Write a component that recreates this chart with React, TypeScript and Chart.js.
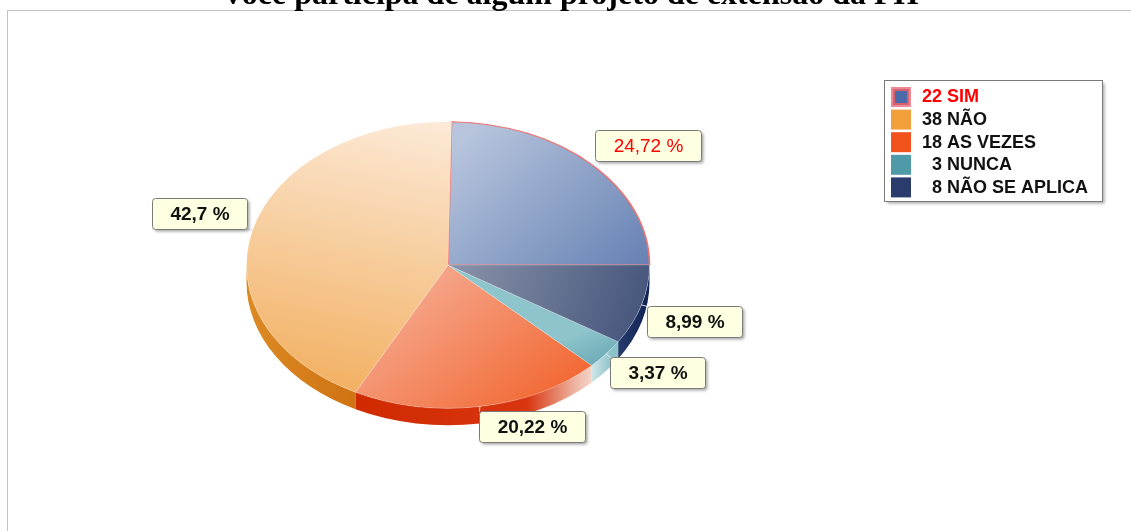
import React, { useEffect, useRef } from "react";
import { Chart, registerables } from "chart.js";

Chart.register(...registerables);

// ---- data ----
const categories = ["SIM", "NÃO", "AS VEZES", "NUNCA", "NÃO SE APLICA"];
const counts = [22, 38, 18, 3, 8];
const percentLabels = ["24,72 %", "42,7 %", "20,22 %", "3,37 %", "8,99 %"];
const titleText = "Você participa de algum projeto de extensão da FH";

// ---- styles ----
const legendColors = ["#4a6aa8", "#f2a03c", "#f2531c", "#4f9aa8", "#2a3c6c"];
const faceStops: [string, string][] = [
  ["#b7c4dc", "#6682b4"],
  ["#fce9d6", "#f2ae5e"],
  ["#f5a68b", "#f2632c"],
  ["#8ec4cc", "#66a6b2"],
  ["#8891a8", "#46557c"],
];
// gradient directions in screen coords [x0,y0,x1,y1]
const faceDirs = [
  [450, 150, 650, 260],
  [430, 122, 320, 400],
  [420, 280, 590, 390],
  [585, 330, 615, 365],
  [455, 268, 650, 300],
];
const borderColors = ["#f07070", "rgba(255,255,255,0.35)", "rgba(255,255,255,0.35)", "rgba(255,255,255,0.35)", "rgba(255,255,255,0.35)"];
const borderWidths = [1.6, 0.8, 0.8, 0.8, 0.8];

const CX = 448;
const CY = 265;
const RX = 201.5;
const RY = 143.3;
const K = RY / RX;
const DEPTH = 17;
const FONT = '"Liberation Sans", Arial, sans-serif';

function chartCenter(chart: any) {
  const a = chart.chartArea;
  return { cx: (a.left + a.right) / 2, cy: (a.top + a.bottom) / 2 };
}

function sideFill(ctx: CanvasRenderingContext2D, i: number) {
  let g: CanvasGradient;
  if (i === 1) {
    g = ctx.createLinearGradient(246, 0, 360, 0);
    g.addColorStop(0, "#dc8a24");
    g.addColorStop(1, "#cf7212");
  } else if (i === 2) {
    g = ctx.createLinearGradient(357, 0, 593, 0);
    g.addColorStop(0, "#d02a00");
    g.addColorStop(0.72, "#d83510");
    g.addColorStop(0.93, "#eeb8a6");
    g.addColorStop(1, "#f4d6cc");
  } else if (i === 3) {
    g = ctx.createLinearGradient(592, 0, 612, 0);
    g.addColorStop(0, "#cde5e7");
    g.addColorStop(1, "#8cc2ca");
  } else if (i === 4) {
    g = ctx.createLinearGradient(610, 0, 652, 0);
    g.addColorStop(0, "#2c4274");
    g.addColorStop(1, "#0c1f50");
  } else {
    g = ctx.createLinearGradient(0, 0, 1, 0);
    g.addColorStop(0, "#4a6aa8");
    g.addColorStop(1, "#4a6aa8");
  }
  return g;
}

const pie3d = {
  id: "pie3d",
  beforeDatasetsDraw(chart: any) {
    const ctx: CanvasRenderingContext2D = chart.ctx;
    const meta = chart.getDatasetMeta(0);
    const TWO = Math.PI * 2;
    // side bands (front half of ellipse)
    meta.data.forEach((el: any, i: number) => {
      const s = el.startAngle;
      const e = el.endAngle;
      const lo = Math.max(TWO - e, 0);
      const hi = Math.min(TWO - s, Math.PI);
      if (hi <= lo) return;
      ctx.save();
      ctx.beginPath();
      ctx.ellipse(CX, CY, RX, RY, 0, lo, hi, false);
      ctx.ellipse(CX, CY + DEPTH, RX, RY, 0, hi, lo, true);
      ctx.closePath();
      ctx.fillStyle = sideFill(ctx, i);
      ctx.fill();
      ctx.restore();
    });
    const { cx, cy } = chartCenter(chart);
    ctx.save();
    ctx.translate(CX, CY);
    ctx.scale(1, -K);
    ctx.translate(-cx, -cy);
  },
  afterDatasetsDraw(chart: any) {
    chart.ctx.restore();
  },
  afterDraw(chart: any) {
    const ctx: CanvasRenderingContext2D = chart.ctx;
    const meta = chart.getDatasetMeta(0);
    // labels
    meta.data.forEach((el: any, i: number) => {
      const th = (el.startAngle + el.endAngle) / 2;
      const c = Math.cos(th);
      const s = Math.sin(th);
      const ax = CX + RX * c;
      const ay = CY - RY * s;
      const isSim = i === 0;
      ctx.save();
      ctx.font = (isSim ? "normal " : "bold ") + "19px " + FONT;
      const tw = ctx.measureText(percentLabels[i]).width;
      const w = Math.round(tw + 36);
      const h = 31;
      const ox = 7 * Math.abs(c) - 1.5;
      const oy = 5 * Math.abs(s);
      const left = c >= 0 ? ax + ox : ax - ox - w;
      const top = s >= 0 ? ay - oy - h : ay + oy;
      const bx = Math.round(left) + 0.5;
      const by = Math.round(top) + 0.5;
      // leader tick
      ctx.strokeStyle = "rgba(230,230,230,0.95)";
      ctx.lineWidth = 1;
      ctx.beginPath();
      ctx.moveTo(ax, ay);
      ctx.lineTo(c >= 0 ? bx : bx + w, s >= 0 ? by + h : by);
      ctx.stroke();
      ctx.shadowColor = "rgba(0,0,0,0.35)";
      ctx.shadowOffsetX = 2;
      ctx.shadowOffsetY = 2;
      ctx.shadowBlur = 3;
      ctx.beginPath();
      (ctx as any).roundRect(bx, by, w, h, 3);
      ctx.fillStyle = "#ffffe1";
      ctx.fill();
      ctx.shadowColor = "transparent";
      ctx.strokeStyle = "#7a7a7a";
      ctx.stroke();
      ctx.fillStyle = isSim ? "#ff0000" : "#111111";
      ctx.textAlign = "center";
      ctx.textBaseline = "middle";
      ctx.fillText(percentLabels[i], bx + w / 2, by + h / 2 + 1);
      ctx.restore();
    });
    // legend
    ctx.save();
    const lx = 884.5, ly = 80.5, lw = 218, lh = 121;
    ctx.shadowColor = "rgba(0,0,0,0.35)";
    ctx.shadowOffsetX = 2;
    ctx.shadowOffsetY = 2;
    ctx.shadowBlur = 3;
    ctx.fillStyle = "#ffffff";
    ctx.fillRect(lx, ly, lw, lh);
    ctx.shadowColor = "transparent";
    ctx.strokeStyle = "#7a7a7a";
    ctx.lineWidth = 1;
    ctx.strokeRect(lx, ly, lw, lh);
    ctx.font = "bold 18px " + FONT;
    ctx.textBaseline = "middle";
    categories.forEach((name, i) => {
      const sy = 87 + i * 22.6;
      const sx = 891;
      if (i === 0) {
        ctx.fillStyle = "#e98a94";
        ctx.fillRect(sx, sy, 20, 20);
        ctx.fillStyle = "#d9606e";
        ctx.fillRect(sx + 2, sy + 2, 16, 16);
        ctx.fillStyle = legendColors[0];
        ctx.fillRect(sx + 4, sy + 4, 12, 12);
      } else {
        ctx.fillStyle = legendColors[i];
        ctx.fillRect(sx, sy, 20, 20);
      }
      ctx.fillStyle = i === 0 ? "#ff0000" : "#111111";
      ctx.textAlign = "right";
      ctx.fillText(String(counts[i]), 942, sy + 10.5);
      ctx.textAlign = "left";
      ctx.fillText(name, 947, sy + 10.5);
    });
    ctx.restore();
  },
};

export default function App() {
  const ref = useRef<HTMLCanvasElement>(null);
  useEffect(() => {
    if (!ref.current) return;
    const chart = new Chart(ref.current, {
      type: "pie",
      data: {
        labels: categories,
        datasets: [
          {
            data: counts,
            backgroundColor: (c: any) => {
              const chart = c.chart;
              const i = c.dataIndex ?? 0;
              if (!chart.chartArea) return legendColors[i];
              const { cx, cy } = chartCenter(chart);
              const tx = (x: number) => x - CX + cx;
              const ty = (y: number) => cy - (y - CY) / K;
              const d = faceDirs[i];
              const g = chart.ctx.createLinearGradient(tx(d[0]), ty(d[1]), tx(d[2]), ty(d[3]));
              g.addColorStop(0, faceStops[i][0]);
              g.addColorStop(1, faceStops[i][1]);
              return g;
            },
            borderColor: borderColors,
            borderWidth: borderWidths,
            radius: RX,
            clip: false,
          } as any,
        ],
      },
      options: {
        responsive: false,
        animation: false,
        events: [],
        rotation: 90,
        radius: RX,
        layout: { padding: 0 },
        plugins: {
          legend: { display: false },
          tooltip: { enabled: false },
          title: { display: false },
        },
      } as any,
      plugins: [pie3d],
    });
    return () => chart.destroy();
  }, []);

  return (
    <div style={{ position: "fixed", left: 0, top: 0, width: 1131, height: 531, overflow: "hidden", background: "#fff" }}>
      <div
        style={{
          position: "absolute",
          left: 7,
          top: 10,
          width: 1200,
          height: 600,
          borderTop: "1px solid #c4c4c4",
          borderLeft: "1px solid #c4c4c4",
        }}
      />
      <canvas ref={ref} width={1131} height={531} style={{ position: "absolute", left: 0, top: 0 }} />
      <div
        style={{
          position: "absolute",
          left: 0,
          top: -23,
          width: 1140,
          textAlign: "center",
          fontFamily: '"Liberation Serif", "Times New Roman", serif',
          fontWeight: "bold",
          fontSize: 32,
          lineHeight: "32px",
          color: "#000",
          whiteSpace: "nowrap",
        }}
      >
        {titleText}
      </div>
    </div>
  );
}
